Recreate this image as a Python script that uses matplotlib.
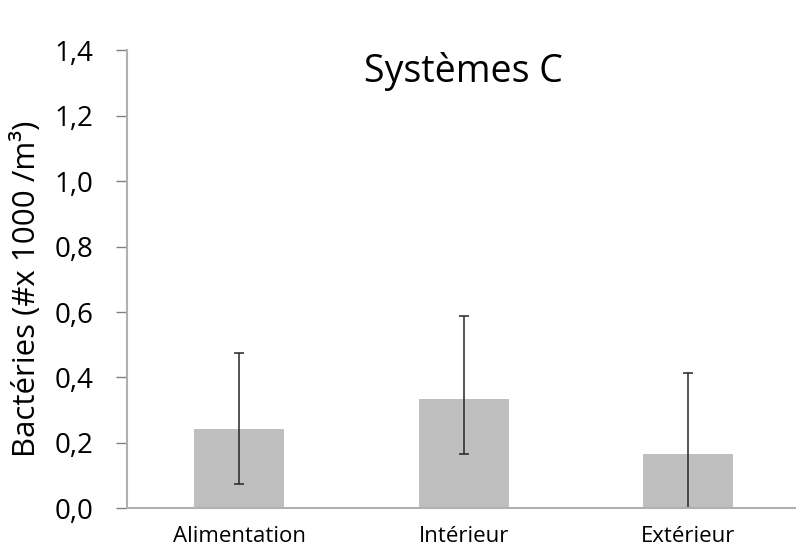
import matplotlib
matplotlib.use("Agg")
import matplotlib.pyplot as plt
from matplotlib.ticker import FuncFormatter

categories = ["Alimentation", "Intérieur", "Extérieur"]
values = [0.243, 0.335, 0.167]
err_low = [0.168, 0.168, 0.167]
err_high = [0.233, 0.252, 0.246]
yticks = [0.0, 0.2, 0.4, 0.6, 0.8, 1.0, 1.2, 1.4]

plt.rcParams["font.family"] = ["Open Sans", "DejaVu Sans"]

fig = plt.figure(figsize=(7.96, 5.51), dpi=100)
ax = fig.add_axes([127 / 796, 42.7 / 551, 673.5 / 796, 458 / 551])

x = range(len(categories))
ax.bar(x, values, width=0.4, color="#BFBFBF", zorder=2)
ax.errorbar(x, values, yerr=[err_low, err_high], fmt="none", ecolor="#262626",
            elinewidth=1.1, capsize=3.6, capthick=1.1, zorder=2.2)

ax.set_xlim(-0.5, 2.5)
ax.set_ylim(0, 1.4)
ax.set_yticks(yticks)
ax.yaxis.set_major_formatter(FuncFormatter(lambda v, p: f"{v:.1f}".replace(".", ",")))
ax.set_xticks(list(x))
ax.set_xticklabels(categories, fontsize=16)
ax.tick_params(axis="x", length=0, pad=13)
ax.tick_params(axis="y", length=8, width=1.0, color="#808080", labelsize=20, pad=16)

for side in ("top", "right"):
    ax.spines[side].set_visible(False)
for side in ("left", "bottom"):
    ax.spines[side].set_color("#B0B0B0")
    ax.spines[side].set_linewidth(1.5)
    ax.spines[side].set_zorder(3)

fig.text(27 / 796, (551 - 289) / 551, "Bactéries (#x 1000 /m³)", rotation=90,
         ha="center", va="center", fontsize=22.5)
ax.text(0.5, 0.931, "Systèmes C", transform=ax.transAxes, ha="center", va="baseline",
        fontsize=27)

fig.savefig("out.png", dpi=100)
